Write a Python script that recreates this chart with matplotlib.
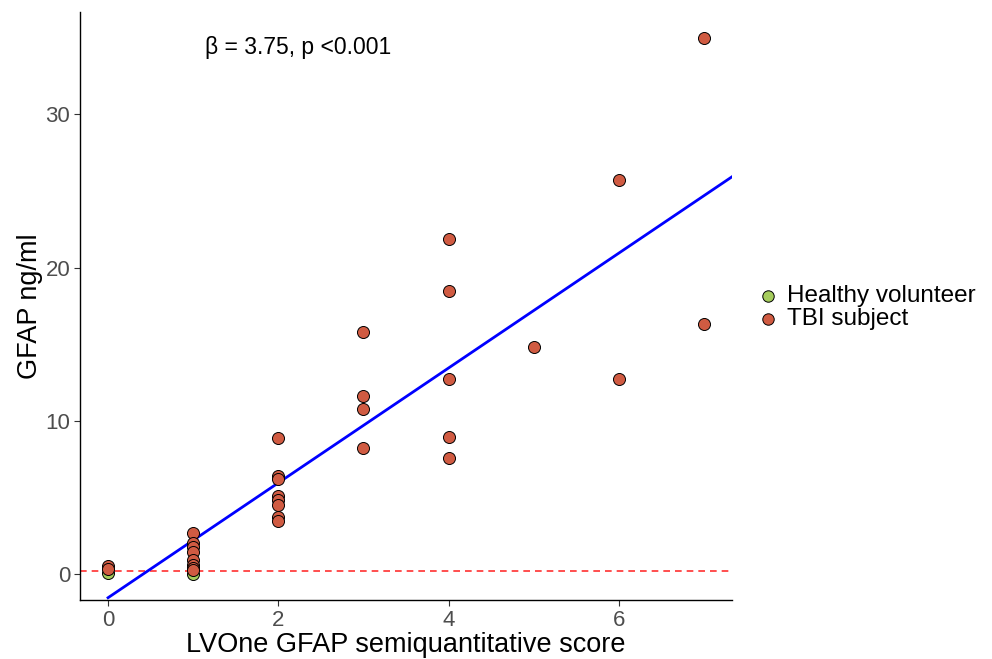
import matplotlib.pyplot as plt
import numpy as np

plt.rcParams['font.family'] = ['Liberation Sans', 'DejaVu Sans']

# LVOne semiquantitative score vs GFAP (ng/ml)
tbi_score = [0, 0,
             1, 1, 1, 1, 1, 1, 1, 1,
             2, 2, 2, 2, 2, 2, 2, 2,
             3, 3, 3, 3,
             4, 4, 4, 4, 4,
             5,
             6, 6,
             7, 7]
tbi_gfap = [0.55, 0.35,
            2.65, 2.0, 1.75, 1.45, 0.9, 0.6, 0.4, 0.25,
            8.9, 6.4, 6.2, 5.1, 4.85, 4.5, 3.7, 3.45,
            15.8, 11.65, 10.75, 8.2,
            21.9, 18.5, 12.75, 8.95, 7.55,
            14.8,
            25.7, 12.75,
            35.0, 16.35]
hv_score = [0, 1]
hv_gfap = [0.05, 0.0]

beta = 3.75
intercept = -1.55
cutoff = 0.2

fig = plt.figure(figsize=(9.92, 6.59), dpi=100)
ax = fig.add_axes([0.0806, 0.0895, 0.738 - 0.0806, 0.982 - 0.0895])

ax.axhline(cutoff, color='#ff3030', linestyle=(0, (4, 3)), linewidth=1.2, zorder=1)

xs = np.array([0, 7.35])
ax.plot(xs, intercept + beta * xs, color='#0000ff', linewidth=2.0, zorder=2)

ax.scatter(hv_score, hv_gfap, s=75, color='#a5cc5c', edgecolor='black', linewidth=0.7,
           zorder=3, label='Healthy volunteer')
ax.scatter(tbi_score, tbi_gfap, s=75, color='#d05b42', edgecolor='black', linewidth=0.7,
           zorder=4, label='TBI subject')

ax.text(2.23, 34.4, 'β = 3.75, p <0.001', fontsize=16.5, ha='center', va='center')

ax.set_xlim(-0.33, 7.33)
ax.set_ylim(-1.7, 36.7)
ax.set_xticks([0, 2, 4, 6])
ax.set_yticks([0, 10, 20, 30])
ax.tick_params(labelsize=16, labelcolor='#4d4d4d', length=4, width=0.8, color='#333333', pad=3)
ax.set_xlabel('LVOne GFAP semiquantitative score', fontsize=19.5, labelpad=1)
ax.set_ylabel('GFAP ng/ml', fontsize=19.5, labelpad=2)

for side in ['top', 'right']:
    ax.spines[side].set_visible(False)
for side in ['left', 'bottom']:
    ax.spines[side].set_linewidth(1.0)

handles, labels = ax.get_legend_handles_labels()
fig.legend(handles, labels, loc='center left', bbox_to_anchor=(0.750, 0.533),
           frameon=False, fontsize=17.5, handletextpad=0.15, labelspacing=0.05,
           markerscale=0.95, borderaxespad=0, handlelength=1.2)

fig.savefig('out.png', dpi=100)
